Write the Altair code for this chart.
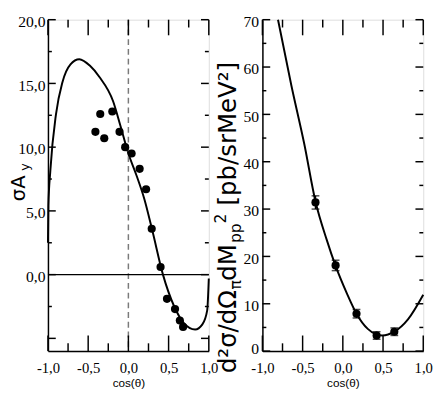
import altair as alt
import pandas as pd

# ---------------- data ----------------
# left panel: sigma*A_y
left_pts_x = [-0.41, -0.35, -0.30, -0.20, -0.11, -0.04, 0.04, 0.14, 0.22, 0.29, 0.40, 0.48, 0.58, 0.64, 0.68]
left_pts_y = [11.2, 12.6, 10.7, 12.8, 11.2, 10.0, 9.5, 8.3, 6.7, 3.6, 0.6, -1.9, -2.7, -3.6, -4.1]

left_curve_x = [-1.0, -0.995, -0.97, -0.90, -0.82, -0.72, -0.61, -0.48, -0.36, -0.19, -0.10, 0.0,
                0.10, 0.20, 0.30, 0.43, 0.57, 0.69, 0.83, 0.92, 0.98, 1.0]
left_curve_y = [2.5, 5.4, 8.2, 12.6, 15.1, 16.5, 16.9, 16.4, 15.5, 13.6, 11.7, 9.5,
                7.8, 5.9, 3.4, 0.0, -2.5, -3.8, -4.3, -3.9, -2.8, -0.3]

# right panel: cross section
right_pts_x = [-0.34, -0.09, 0.17, 0.42, 0.64]
right_pts_y = [31.4, 18.1, 7.9, 3.3, 4.1]
right_pts_err = [1.4, 1.1, 0.9, 0.8, 0.8]

right_curve_x = [-0.806, -0.64, -0.48, -0.34, -0.20, -0.09, 0.05, 0.17, 0.31, 0.49, 0.64, 0.81, 1.0]
right_curve_y = [70.0, 56.1, 43.8, 31.6, 23.5, 18.0, 12.2, 7.9, 4.7, 3.3, 4.1, 6.7, 11.9]

# tick values
x_major = [-1.0, -0.5, 0.0, 0.5, 1.0]
x_minor = [-0.75, -0.25, 0.25, 0.75]
yl_major = [-5.0, 0.0, 5.0, 10.0, 15.0, 20.0]
yl_minor = [-2.5, 2.5, 7.5, 12.5, 17.5]
yl_labels = [0.0, 5.0, 10.0, 15.0, 20.0]
yr_major = [0, 10, 20, 30, 40, 50, 60, 70]
yr_minor = [5, 15, 25, 35, 45, 55, 65]

x_title = "cos(θ)"

# ---------------- styling ----------------
W, H = 165, 340
LABEL_FONT = "Liberation Sans Narrow"
TITLE_FONT = "DejaVu Sans"
comma_expr = "replace(replace(format(datum.value, '.1f'), '.', ','), '\u2212', '-')"

xs = alt.Scale(domain=[-1, 1], nice=False, zero=False)
yls = alt.Scale(domain=[-6, 20], nice=False, zero=False)
yrs = alt.Scale(domain=[0, 70], nice=False, zero=False)

x_axis = alt.Axis(values=x_major, labelExpr=comma_expr, ticks=False, tickSize=0, labelPadding=10,
                  labelFont=LABEL_FONT, labelFontSize=15, labelColor="black", labelFlush=False,
                  domainColor="black", domainWidth=1.5, grid=False, title=x_title,
                  titleFont="Liberation Sans", titleFontSize=12, titleFontWeight="normal",
                  titleColor="black", titlePadding=2)
yl_axis = alt.Axis(values=yl_labels, labelExpr=comma_expr, ticks=False, tickSize=0, labelPadding=3,
                   labelOffset=2, labelFont=LABEL_FONT, labelFontSize=16, labelColor="black",
                   labelFlush=False, domainColor="black", domainWidth=1.5, grid=False, title=None)
yr_axis = alt.Axis(values=yr_major, ticks=False, tickSize=0, labelPadding=4,
                   labelOffset={"condition": {"test": "datum.value == 0", "value": -3}, "value": 2},
                   labelFont=LABEL_FONT, labelFontSize=16, labelColor="black", labelFlush=False,
                   domainColor="black", domainWidth=1.5, grid=False, title=None)


def tick_layers(scale_y, axis_y, ymaj, ymin):
    layers = []
    for vals, ln in [(x_major, 16), (x_minor, 8)]:
        d = pd.DataFrame({"v": vals})
        layers.append(alt.Chart(d).mark_rule(color="black", strokeWidth=1.5).encode(
            x=alt.X("v:Q", scale=xs, axis=x_axis), y=alt.value(H), y2=alt.value(H - ln)))
        layers.append(alt.Chart(d).mark_rule(color="black", strokeWidth=1.5).encode(
            x=alt.X("v:Q", scale=xs, axis=x_axis), y=alt.value(0), y2=alt.value(ln)))
    for vals, ln in [(ymaj, 8), (ymin, 4)]:
        d = pd.DataFrame({"v": vals})
        layers.append(alt.Chart(d).mark_rule(color="black", strokeWidth=1.5).encode(
            y=alt.Y("v:Q", scale=scale_y, axis=axis_y), x=alt.value(0), x2=alt.value(ln)))
        layers.append(alt.Chart(d).mark_rule(color="black", strokeWidth=1.5).encode(
            y=alt.Y("v:Q", scale=scale_y, axis=axis_y), x=alt.value(W), x2=alt.value(W - ln)))
    return layers


def text_piece(txt, x, y, size, font=TITLE_FONT):
    return alt.Chart(pd.DataFrame({"t": [txt]})).mark_text(
        angle=270, align="center", baseline="alphabetic", font=font, fontSize=size,
        color="black").encode(text="t:N", x=alt.value(x), y=alt.value(y))


# ---------------- left panel ----------------
lc = pd.DataFrame({"x": left_curve_x, "y": left_curve_y})
lp = pd.DataFrame({"x": left_pts_x, "y": left_pts_y})

left_curve = alt.Chart(lc).mark_line(color="black", strokeWidth=2, interpolate="monotone").encode(
    x=alt.X("x:Q", scale=xs, axis=x_axis), y=alt.Y("y:Q", scale=yls, axis=yl_axis))
left_dash = alt.Chart(pd.DataFrame({"x": [0.0]})).mark_rule(
    color="#7a7a7a", strokeWidth=1.5, strokeDash=[6, 4]).encode(x=alt.X("x:Q", scale=xs, axis=x_axis))
left_zero = alt.Chart(pd.DataFrame({"y": [0.0]})).mark_rule(
    color="black", strokeWidth=1.5).encode(y=alt.Y("y:Q", scale=yls, axis=yl_axis))
left_points = alt.Chart(lp).mark_circle(color="black", opacity=1, size=70).encode(
    x=alt.X("x:Q", scale=xs, axis=x_axis), y=alt.Y("y:Q", scale=yls, axis=yl_axis))

left_title = [
    text_piece("σA", -24, 173, 20),
    text_piece("y", -19, 151, 13),
]

left = alt.layer(left_curve, left_dash, left_zero, left_points,
                 *tick_layers(yls, yl_axis, yl_major, yl_minor), *left_title).properties(width=W, height=H)

# ---------------- right panel ----------------
rc = pd.DataFrame({"x": right_curve_x, "y": right_curve_y})
rp = pd.DataFrame({"x": right_pts_x, "y": right_pts_y, "err": right_pts_err})
rp["lo"] = rp["y"] - rp["err"]
rp["hi"] = rp["y"] + rp["err"]

right_curve = alt.Chart(rc).mark_line(color="black", strokeWidth=2, interpolate="monotone").encode(
    x=alt.X("x:Q", scale=xs, axis=x_axis), y=alt.Y("y:Q", scale=yrs, axis=yr_axis))
right_err = alt.Chart(rp).mark_rule(color="black", strokeWidth=1.5).encode(
    x=alt.X("x:Q", scale=xs, axis=x_axis), y=alt.Y("lo:Q", scale=yrs, axis=yr_axis), y2="hi:Q")
right_cap_lo = alt.Chart(rp).mark_tick(color="black", orient="horizontal", size=8, thickness=1.5).encode(
    x=alt.X("x:Q", scale=xs, axis=x_axis), y=alt.Y("lo:Q", scale=yrs, axis=yr_axis))
right_cap_hi = alt.Chart(rp).mark_tick(color="black", orient="horizontal", size=8, thickness=1.5).encode(
    x=alt.X("x:Q", scale=xs, axis=x_axis), y=alt.Y("hi:Q", scale=yrs, axis=yr_axis))
right_points = alt.Chart(rp).mark_circle(color="black", opacity=1, size=70).encode(
    x=alt.X("x:Q", scale=xs, axis=x_axis), y=alt.Y("y:Q", scale=yrs, axis=yr_axis))

right_title = [
    text_piece("d²σ/dΩ", -27, 320, 25),
    text_piece("π", -22, 272, 16),
    text_piece("dM", -27, 249, 25),
    text_piece("pp", -22, 219, 16),
    text_piece("2", -37, 204, 16),
    text_piece("[pb/srMeV²]", -27, 117, 25),
]

right = alt.layer(right_curve, right_err, right_cap_lo, right_cap_hi, right_points,
                  *tick_layers(yrs, yr_axis, yr_major, yr_minor), *right_title).properties(width=W, height=H)

chart = alt.hconcat(left, right, spacing=55, bounds="flush").properties(
    padding={"left": 0, "top": 0, "right": 0, "bottom": 0}
).configure_view(stroke="black", strokeWidth=1.5).configure(background="white")

chart.save("out.html", embed_options={"renderer": "svg", "actions": False})
